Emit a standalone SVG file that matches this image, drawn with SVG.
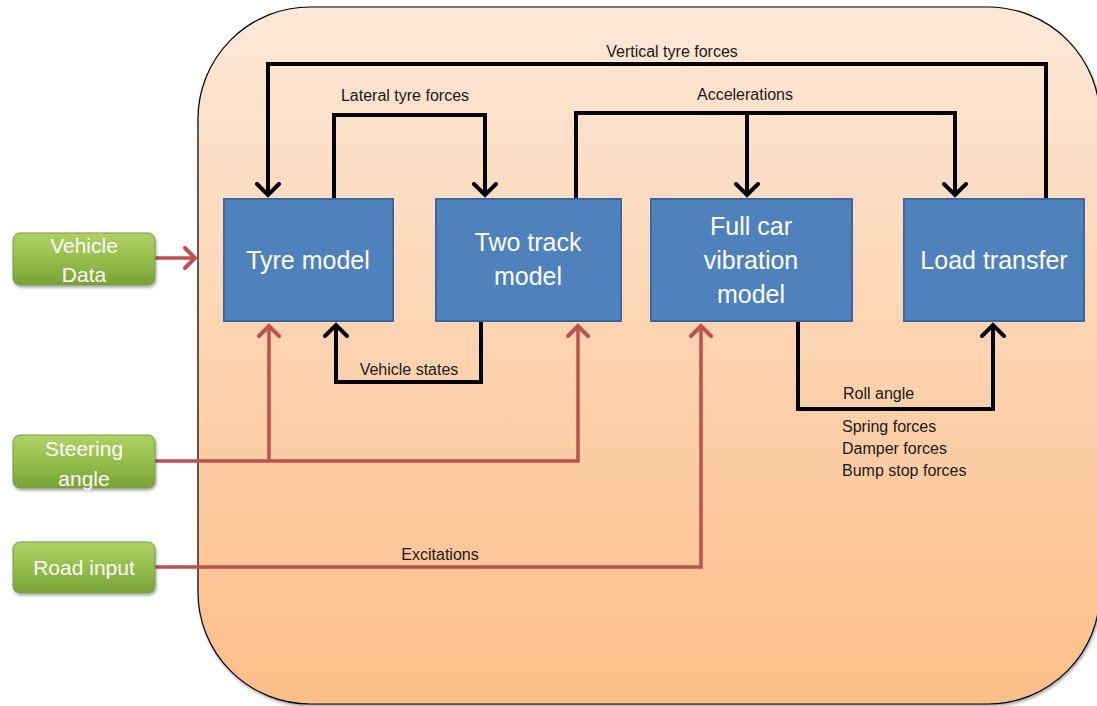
<svg xmlns="http://www.w3.org/2000/svg" width="1097" height="706" viewBox="0 0 1097 706">
<defs>
<linearGradient id="bg" x1="0" y1="0" x2="0" y2="1">
<stop offset="0" stop-color="#FDE8D8"/>
<stop offset="1" stop-color="#FCBE88"/>
</linearGradient>
<linearGradient id="gr" x1="0" y1="0" x2="0" y2="1">
<stop offset="0" stop-color="#B0D266"/>
<stop offset="0.5" stop-color="#94BE4C"/>
<stop offset="1" stop-color="#78A236"/>
</linearGradient>
<marker id="ab" markerUnits="userSpaceOnUse" markerWidth="26" markerHeight="26" refX="13" refY="13" orient="auto" viewBox="0 0 26 26">
<path d="M2,2 L13,13 L2,24" fill="none" stroke="#000" stroke-width="4" stroke-linecap="round" stroke-linejoin="miter"/>
</marker>
<marker id="ar" markerUnits="userSpaceOnUse" markerWidth="24" markerHeight="24" refX="12" refY="12" orient="auto" viewBox="0 0 24 24">
<path d="M2,2 L12,12 L2,22" fill="none" stroke="#C0504D" stroke-width="4" stroke-linecap="round"/>
</marker>
<filter id="sh" x="-5%" y="-5%" width="110%" height="115%">
<feDropShadow dx="1" dy="2" stdDeviation="1.5" flood-color="#000" flood-opacity="0.35"/>
</filter>
</defs>
<style>
.blue{fill:#4F81BD;stroke:#3A679E;stroke-width:2}
.green{fill:url(#gr);stroke:#7A9A45;stroke-width:1}
.nt{font-family:"Liberation Sans",Arial,sans-serif;font-size:25px;fill:#fff;text-anchor:middle}
.gt{font-family:"Liberation Sans",Arial,sans-serif;font-size:21px;fill:#fff;text-anchor:middle}
.lb{font-family:"Liberation Sans",Arial,sans-serif;font-size:16px;fill:#1a1a1a}
.bk{fill:none;stroke:#000;stroke-width:4;stroke-linejoin:miter}
.rd{fill:none;stroke:#C0504D;stroke-width:3.5;stroke-linejoin:miter}
</style>
<rect id="container" x="198" y="7" width="902" height="697" rx="112" ry="112" fill="url(#bg)" stroke="#000" stroke-width="1.2" filter="url(#sh)"/>

<g id="connectors">
<path class="bk" d="M1046,199 V64 H268 V195" marker-end="url(#ab)"/>
<path class="bk" d="M334,199 V115 H485 V195" marker-end="url(#ab)"/>
<path class="bk" d="M576,199 V113 H955 V195" marker-end="url(#ab)"/>
<path class="bk" d="M747,113 V195" marker-end="url(#ab)"/>
<path class="bk" d="M481,321 V382 H336 V325" marker-end="url(#ab)"/>
<path class="bk" d="M798,321 V409 H993 V325" marker-end="url(#ab)"/>
<path class="rd" d="M155,258 H195" marker-end="url(#ar)"/>
<path class="rd" d="M155,461 H578 V326" marker-end="url(#ar)"/>
<path class="rd" d="M269,461 V326" marker-end="url(#ar)"/>
<path class="rd" d="M155,567 H701 V326" marker-end="url(#ar)"/>
<text class="lb" x="672" y="57" text-anchor="middle">Vertical tyre forces</text>
<text class="lb" x="405" y="101" text-anchor="middle">Lateral tyre forces</text>
<text class="lb" x="745" y="100" text-anchor="middle">Accelerations</text>
<text class="lb" x="409" y="375" text-anchor="middle">Vehicle states</text>
<text class="lb" x="843" y="399">Roll angle</text>
<text class="lb" x="842" y="432">Spring forces</text>
<text class="lb" x="842" y="454">Damper forces</text>
<text class="lb" x="842" y="476">Bump stop forces</text>
<text class="lb" x="440" y="560" text-anchor="middle">Excitations</text>
</g>

<g id="tyre-model">
<rect class="blue" x="224" y="199" width="169" height="122"/>
<text class="nt" x="308" y="269">Tyre model</text>
</g>
<g id="two-track-model">
<rect class="blue" x="436" y="199" width="185" height="122"/>
<text class="nt" x="528" y="251">Two track</text>
<text class="nt" x="528" y="285">model</text>
</g>
<g id="full-car-vibration-model">
<rect class="blue" x="651" y="199" width="201" height="122"/>
<text class="nt" x="751" y="235">Full car</text>
<text class="nt" x="751" y="269">vibration</text>
<text class="nt" x="751" y="303">model</text>
</g>
<g id="load-transfer">
<rect class="blue" x="904" y="199" width="180" height="122"/>
<text class="nt" x="994" y="269">Load transfer</text>
</g>

<g id="vehicle-data">
<rect class="green" x="13" y="233" width="142" height="52" rx="7" filter="url(#sh)"/>
<text class="gt" x="84" y="253">Vehicle</text>
<text class="gt" x="84" y="282">Data</text>
</g>
<g id="steering-angle">
<rect class="green" x="13" y="435" width="142" height="53" rx="7" filter="url(#sh)"/>
<text class="gt" x="84" y="456">Steering</text>
<text class="gt" x="84" y="486">angle</text>
</g>
<g id="road-input">
<rect class="green" x="13" y="542" width="142" height="51" rx="7" filter="url(#sh)"/>
<text class="gt" x="84" y="575">Road input</text>
</g>
</svg>
